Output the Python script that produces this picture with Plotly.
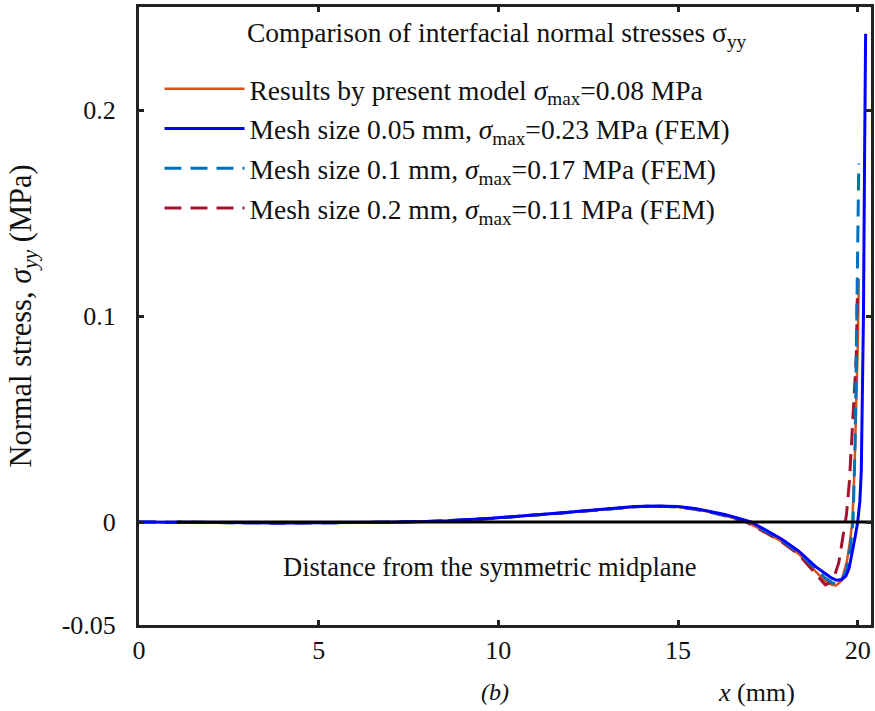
import plotly.graph_objects as go

# ---------------- data ----------------
x_model = [0, 1, 2, 3, 4, 5, 6, 7, 8, 8.6, 9.8, 11, 11.6, 12.5, 13.2, 13.8, 14.4, 15.0, 15.5, 16.0, 16.3, 16.6,
           16.92, 17.44, 17.89, 18.36, 18.83, 19.05, 19.28, 19.4, 19.55, 19.7, 19.78, 19.85, 19.91, 19.96, 20.0, 20.03]
y_model = [0, -0.0002, -0.0004, -0.0005, -0.0005, -0.0004, -0.0003, -0.0001, 0.0003, 0.0006, 0.0017, 0.0032,
           0.0041, 0.0055, 0.0066, 0.0074, 0.0077, 0.0073, 0.0062, 0.0045, 0.0031, 0.0016,
           0.0, -0.0050, -0.0095, -0.0155, -0.0240, -0.0280, -0.0305, -0.0308, -0.0285, -0.0190, -0.0100, 0.0,
           0.025, 0.055, 0.085, 0.118]

x_fem005 = [0, 1, 2, 3, 4, 5, 6, 7, 8, 8.6, 9.8, 11, 11.6, 12.5, 13.2, 13.8, 14.4, 15.0, 15.5, 16.0, 16.3, 16.6,
            17.03, 17.44, 17.89, 18.36, 18.83, 19.28, 19.42, 19.55, 19.67, 19.76, 19.85, 19.93, 20.0, 20.06,
            20.1, 20.13, 20.16, 20.19, 20.21, 20.22]
y_fem005 = [0, -0.0002, -0.0004, -0.0005, -0.0005, -0.0004, -0.0003, -0.0001, 0.0003, 0.0006, 0.0018, 0.0033,
            0.0042, 0.0056, 0.0067, 0.0075, 0.0078, 0.0075, 0.0065, 0.0049, 0.0036, 0.0022,
            0.0, -0.0039, -0.0084, -0.0141, -0.0217, -0.0273, -0.0283, -0.0279, -0.0262, -0.0225, -0.0151,
            -0.0070, 0.0, 0.010, 0.025, 0.055, 0.100, 0.174, 0.215, 0.237]

x_fem01 = [0, 1, 2, 3, 4, 5, 6, 7, 8, 8.6, 9.8, 11, 11.6, 12.5, 13.2, 13.8, 14.4, 15.0, 15.5, 16.0, 16.3, 16.6,
           16.97, 17.44, 17.89, 18.36, 18.83, 19.1, 19.3, 19.42, 19.55, 19.69, 19.79, 19.87, 19.93, 19.98, 20.01, 20.03]
y_fem01 = [0, -0.0002, -0.0004, -0.0005, -0.0005, -0.0004, -0.0003, -0.0001, 0.0003, 0.0006, 0.0017, 0.0032,
           0.0041, 0.0055, 0.0066, 0.0074, 0.0077, 0.0074, 0.0063, 0.0046, 0.0033, 0.0018,
           0.0, -0.0045, -0.0090, -0.0148, -0.0230, -0.0272, -0.0296, -0.0299, -0.0285, -0.0230, -0.0130, 0.0,
           0.040, 0.100, 0.140, 0.174]

x_fem02 = [0, 1, 2, 3, 4, 5, 6, 7, 8, 8.6, 9.8, 11, 11.6, 12.5, 13.2, 13.8, 14.4, 15.0, 15.5, 16.0, 16.3, 16.6,
           16.9, 17.44, 17.89, 18.36, 18.83, 19.1, 19.3, 19.47, 19.6, 19.69, 19.77, 19.87, 19.96, 19.99]
y_fem02 = [0, -0.0002, -0.0004, -0.0005, -0.0005, -0.0004, -0.0003, -0.0001, 0.0003, 0.0006, 0.0017, 0.0032,
           0.0041, 0.0055, 0.0066, 0.0074, 0.0077, 0.0073, 0.0061, 0.0044, 0.0030, 0.0015,
           0.0, -0.0052, -0.0097, -0.0158, -0.0250, -0.0305, -0.0290, -0.0200, -0.0060, 0.004, 0.020, 0.050,
           0.080, 0.110]

zero_x = [1.05, 20.37]
zero_y = [0, 0]

x_ticks = [0, 5, 10, 15, 20]
y_ticks = [-0.05, 0, 0.1, 0.2]
y_ticktext = ["-0.05", "0", "0.1", "0.2"]

names = [
    "Results by present model <i>σ</i><sub>max</sub>=0.08 MPa",
    "Mesh size 0.05 mm, <i>σ</i><sub>max</sub>=0.23 MPa (FEM)",
    "Mesh size 0.1 mm, <i>σ</i><sub>max</sub>=0.17 MPa (FEM)",
    "Mesh size 0.2 mm, <i>σ</i><sub>max</sub>=0.11 MPa (FEM)",
]
colors = ["#D95319", "#0000FF", "#0072BD", "#A2142F"]

FONT = "Liberation Serif, Times New Roman, serif"
DASH = "17px,9px"

fig = go.Figure()
fig.add_trace(go.Scatter(x=x_model, y=y_model, mode="lines", name=names[0], legendrank=1,
                         legendgroup="a", line=dict(color=colors[0], width=2.5)))
fig.add_trace(go.Scatter(x=x_fem02, y=y_fem02, mode="lines", name=names[3], legendrank=4,
                         legendgroup="d", line=dict(color=colors[3], width=3, dash=DASH)))
fig.add_trace(go.Scatter(x=x_fem01, y=y_fem01, mode="lines", name=names[2], legendrank=3,
                         legendgroup="c", line=dict(color=colors[2], width=3, dash=DASH)))
fig.add_trace(go.Scatter(x=x_fem005, y=y_fem005, mode="lines", name=names[1], legendrank=2,
                         legendgroup="b", line=dict(color=colors[1], width=3)))
fig.add_trace(go.Scatter(x=zero_x, y=zero_y, mode="lines", showlegend=False,
                         line=dict(color="black", width=3)))

axis_common = dict(showline=True, linecolor="#222222", linewidth=3, mirror="ticks",
                   ticks="inside", ticklen=5, tickwidth=3, tickcolor="#222222",
                   showgrid=False, zeroline=False,
                   tickfont=dict(family=FONT, size=26, color="#111111"))

fig.update_xaxes(range=[0, 20.37], tickvals=x_ticks, **axis_common)
fig.update_yaxes(range=[-0.05, 0.25], tickvals=y_ticks, ticktext=y_ticktext,
                 ticklabelstandoff=15, **axis_common)

annotations = [
    dict(text="Comparison of interfacial normal stresses σ<sub>yy</sub>", x=0.489, y=0.955,
         font=dict(size=27.5)),
    dict(text="Distance from the symmetric midplane", x=0.479, y=0.094, font=dict(size=26.5)),
    dict(text="<i>(b)</i>", x=0.487, y=-0.108, font=dict(size=24)),
    dict(text="<i>x</i> (mm)", x=0.843, y=-0.110, font=dict(size=26)),
    dict(text="Normal stress, <i>σ<sub>yy</sub></i> (MPa)", x=-0.159, y=0.5, textangle=-90,
         font=dict(size=30.5)),
]
for a in annotations:
    a.update(xref="paper", yref="paper", showarrow=False, xanchor="center", yanchor="middle")
    a["font"].update(family=FONT, color="#111111")

fig.update_layout(
    width=875, height=711,
    margin=dict(l=139, r=1, t=7, b=86),
    paper_bgcolor="white", plot_bgcolor="white",
    font=dict(family=FONT, size=26, color="#111111"),
    annotations=annotations,
    showlegend=True,
    legend=dict(x=0.028, y=0.907, xanchor="left", yanchor="top",
                bgcolor="rgba(0,0,0,0)", borderwidth=0, tracegroupgap=1,
                itemwidth=80, font=dict(family=FONT, size=27.5, color="#111111")),
)

fig.write_html("out.html")
